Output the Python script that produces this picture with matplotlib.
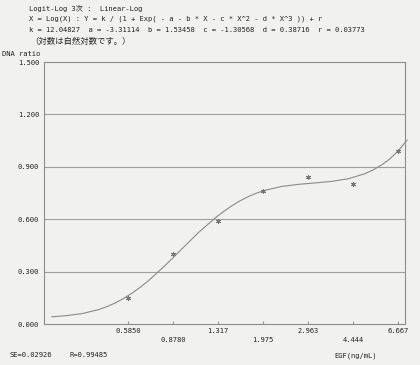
import matplotlib
matplotlib.use("Agg")
import matplotlib.pyplot as plt

# monospace for the latin text, CJK font for the kanji/kana
plt.rcParams["font.family"] = ["DejaVu Sans Mono", "Noto Sans CJK JP"]

# measured points (EGF ng/mL vs DNA ratio)
egf = [0.5850, 0.8780, 1.317, 1.975, 2.963, 4.444, 6.667]
dna_ratio = [0.15, 0.40, 0.59, 0.76, 0.84, 0.80, 0.99]

# fitted curve
curve_x = [0.295, 0.333, 0.387, 0.449, 0.484, 0.522, 0.563, 0.607, 0.654, 0.705,
           0.819, 0.951, 1.105, 1.284, 1.384, 1.492, 1.608, 1.733, 1.868, 2.014,
           2.340, 2.718, 3.158, 3.669, 4.263, 4.953, 5.339, 5.755, 6.203, 6.686,
           7.243]
curve_y = [0.042, 0.048, 0.060, 0.083, 0.100, 0.121, 0.147, 0.177, 0.211, 0.249,
           0.336, 0.430, 0.524, 0.607, 0.644, 0.677, 0.706, 0.730, 0.750, 0.766,
           0.788, 0.800, 0.808, 0.817, 0.832, 0.861, 0.883, 0.911, 0.946, 0.992,
           1.053]

tick_vals = [0.5850, 0.8780, 1.317, 1.975, 2.963, 4.444, 6.667]
tick_text = ["0.5850", "\n0.8780", "1.317", "\n1.975", "2.963", "\n4.444", "6.667"]
y_ticks = [0.0, 0.3, 0.6, 0.9, 1.2, 1.5]

header = [
    "Logit-Log 3次 :  Linear-Log",
    "X = Log(X) : Y = k / (1 + Exp( - a - b * X - c * X^2 - d * X^3 )) + r",
    "k = 12.04827  a = -3.31114  b = 1.53458  c = -1.30568  d = 0.38716  r = 0.03773",
]
note = "（対数は自然対数です。）"

bg = "#f1f1ef"
txt = "#222222"
fs = 5.1
fig = plt.figure(figsize=(4.2, 3.65), dpi=100, facecolor=bg)
ax = fig.add_axes([0.105, 0.112, 0.859, 0.718], facecolor=bg)

ax.set_xscale("log")
ax.set_xlim(0.275, 7.1)
ax.set_ylim(0, 1.5)

for v in y_ticks[1:-1]:
    ax.axhline(v, color="#a0a0a0", lw=0.8, zorder=1)

ax.plot(curve_x, curve_y, color="#8a8a8a", lw=0.8, zorder=2, clip_on=False)
ax.plot(egf, dna_ratio, ls="none", marker=(6, 2, 0), ms=3.5, mew=0.7,
        color="#777777", zorder=3)

ax.set_xticks(tick_vals)
ax.set_xticklabels(tick_text, fontsize=fs, color=txt, linespacing=1.45)
ax.minorticks_off()
ax.set_yticks(y_ticks)
ax.set_yticklabels([f"{v:.3f}" for v in y_ticks], fontsize=fs, color=txt)
ax.tick_params(axis="x", direction="in", length=2, color="#999999", pad=3)
ax.tick_params(axis="y", length=0, pad=3.5)
for s in ax.spines.values():
    s.set_color("#8c8c8c")
    s.set_linewidth(0.8)

for i, line in enumerate(header):
    fig.text(29 / 420, 1 - (8 + 11 * i) / 365, line, fontsize=fs, color=txt,
             va="center", ha="left")
fig.text(30 / 420, 1 - 41 / 365, note, fontsize=6.0, color=txt,
         va="center", ha="left", family="Noto Sans CJK JP")
fig.text(2 / 420, 1 - 54 / 365, "DNA ratio", fontsize=fs, color=txt, va="center")
fig.text(356 / 420, 1 - 356 / 365, "EGF(ng/mL)", fontsize=fs, color=txt,
         va="center", ha="center")
fig.text(10 / 420, 1 - 355 / 365, "SE=0.02926", fontsize=fs, color=txt, va="center")
fig.text(70 / 420, 1 - 355 / 365, "R=0.99485", fontsize=fs, color=txt, va="center")

fig.savefig("out.png", dpi=100, facecolor=bg)
